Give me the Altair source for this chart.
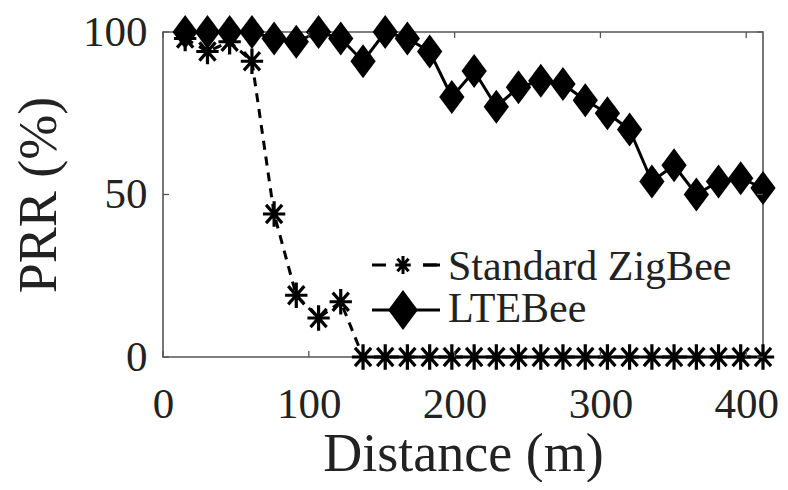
import altair as alt
import pandas as pd

series_names = ["Standard ZigBee", "LTEBee"]
distance = [15.2, 30.5, 45.7, 61.0, 76.2, 91.4, 106.7, 121.9, 137.2, 152.4,
            167.6, 182.9, 198.1, 213.4, 228.6, 243.8, 259.1, 274.3, 289.6,
            304.8, 320.0, 335.3, 350.5, 365.8, 381.0, 396.2, 411.5]
zigbee = [98, 94, 97, 91, 44, 19, 12, 17, 0, 0, 0, 0, 0, 0, 0, 0, 0, 0, 0,
          0, 0, 0, 0, 0, 0, 0, 0]
ltebee = [100, 100, 100, 100, 98, 97, 100, 98, 91, 100, 98, 94, 80, 88, 77,
          83, 85, 84, 79, 75, 70, 54, 59, 50, 54, 55, 52]
x_ticks = [0, 100, 200, 300, 400]
y_ticks = [0, 50, 100]

FONT = "Liberation Serif"
W, H = 600, 325
df_z = pd.DataFrame({"d": distance, "prr": zigbee, "series": series_names[0]})
df_l = pd.DataFrame({"d": distance, "prr": ltebee, "series": series_names[1]})

xs = alt.Scale(domain=[0, 411.5], nice=False, zero=False)
ys = alt.Scale(domain=[0, 100], nice=False)

DIAMOND = "M0,-1.35L1,0L0,1.35L-1,0Z"
STAR = "M-1,0H1M0,-1.15V1.15M-0.72,-0.82L0.72,0.82M-0.72,0.82L0.72,-0.82"

x_axis = alt.Axis(values=x_ticks, title="Distance (m)", grid=False, ticks=False,
                  domain=False, labelFont=FONT, labelFontSize=43,
                  labelColor="#222", labelPadding=60, labelBaseline="alphabetic",
                  labelFlush=False, labelOverlap=False,
                  titleFont=FONT, titleFontSize=54, titleFontWeight="normal",
                  titleColor="#222", titleY=113, titleBaseline="alphabetic")
y_axis = alt.Axis(values=y_ticks, title="PRR (%)", grid=False, ticks=False,
                  domain=False, labelFont=FONT, labelFontSize=43,
                  labelColor="#222", labelPadding=16, labelBaseline="middle",
                  labelFlush=False, labelOverlap=False,
                  titleFont=FONT, titleFontSize=54, titleFontWeight="normal",
                  titleColor="#222", titleX=-108, titleY=H / 2,
                  titleBaseline="alphabetic", titleAlign="center")

X = alt.X("d:Q", scale=xs, axis=x_axis)
Y = alt.Y("prr:Q", scale=ys, axis=y_axis)

line_z = alt.Chart(df_z).mark_line(color="black", strokeWidth=3, strokeDash=[9, 7]).encode(x=X, y=Y)
line_l = alt.Chart(df_l).mark_line(color="black", strokeWidth=3).encode(x=X, y=Y)
pts_z = alt.Chart(df_z).mark_point(shape=STAR, filled=False, color="black",
                                   strokeWidth=3.2, size=500, opacity=1).encode(x=X, y=Y)
pts_l = alt.Chart(df_l).mark_point(shape=DIAMOND, filled=True, color="black",
                                   size=640, opacity=1).encode(x=X, y=Y)

tx = pd.DataFrame({"d": x_ticks})
ty = pd.DataFrame({"prr": y_ticks})
TCOL = "#555"
tick_b = alt.Chart(tx).mark_rule(color=TCOL, strokeWidth=1.3).encode(
    x=X, y=alt.value(H), y2=alt.value(H - 6))
tick_t = alt.Chart(tx).mark_rule(color=TCOL, strokeWidth=1.3).encode(
    x=X, y=alt.value(0), y2=alt.value(6))
tick_l = alt.Chart(ty).mark_rule(color=TCOL, strokeWidth=1.3).encode(
    y=Y, x=alt.value(0), x2=alt.value(6))
tick_r = alt.Chart(ty).mark_rule(color=TCOL, strokeWidth=1.3).encode(
    y=Y, x=alt.value(W), x2=alt.value(W - 6))

# manual legend
leg1 = pd.DataFrame({"series": [series_names[0]]})
leg2 = pd.DataFrame({"series": [series_names[1]]})
lx0, lx1, lsym, ltext = 209, 277, 240, 285
r1, r2 = 233, 278
leg_line1 = alt.Chart(leg1).mark_rule(color="black", strokeWidth=3, strokeDash=[14, 37]).encode(
    x=alt.value(lx0), x2=alt.value(lx1), y=alt.value(r1))
leg_line1b = alt.Chart(leg1).mark_rule(color="black", strokeWidth=3).encode(
    x=alt.value(lx1 - 17), x2=alt.value(lx1), y=alt.value(r1))
leg_pt1 = alt.Chart(leg1).mark_point(shape=STAR, filled=False, color="black",
                                     strokeWidth=3, size=240, opacity=1).encode(
    x=alt.value(lsym), y=alt.value(r1))
leg_txt1 = alt.Chart(leg1).mark_text(font=FONT, fontSize=42, color="#222", align="left",
                                     baseline="alphabetic").encode(
    x=alt.value(ltext), y=alt.value(r1 + 15), text="series:N")
leg_line2 = alt.Chart(leg2).mark_rule(color="black", strokeWidth=3).encode(
    x=alt.value(lx0), x2=alt.value(lx1), y=alt.value(r2))
leg_pt2 = alt.Chart(leg2).mark_point(shape=DIAMOND, filled=True, color="black",
                                     size=880, opacity=1).encode(
    x=alt.value(lsym), y=alt.value(r2))
leg_txt2 = alt.Chart(leg2).mark_text(font=FONT, fontSize=42, color="#222", align="left",
                                     baseline="alphabetic").encode(
    x=alt.value(ltext), y=alt.value(r2 + 12), text="series:N")

chart = alt.layer(
    line_z, line_l, pts_z, pts_l, tick_b, tick_t, tick_l, tick_r,
    leg_line1, leg_line1b, leg_pt1, leg_txt1, leg_line2, leg_pt2, leg_txt2,
).properties(
    width=W, height=H,
    autosize=alt.AutoSizeParams(type="none"),
    padding={"left": 155, "top": 24, "right": 17, "bottom": 125},
    background="white",
).configure_view(stroke="#555", strokeWidth=1.6)

chart.save("out.html", embed_options={"renderer": "svg", "actions": False})
